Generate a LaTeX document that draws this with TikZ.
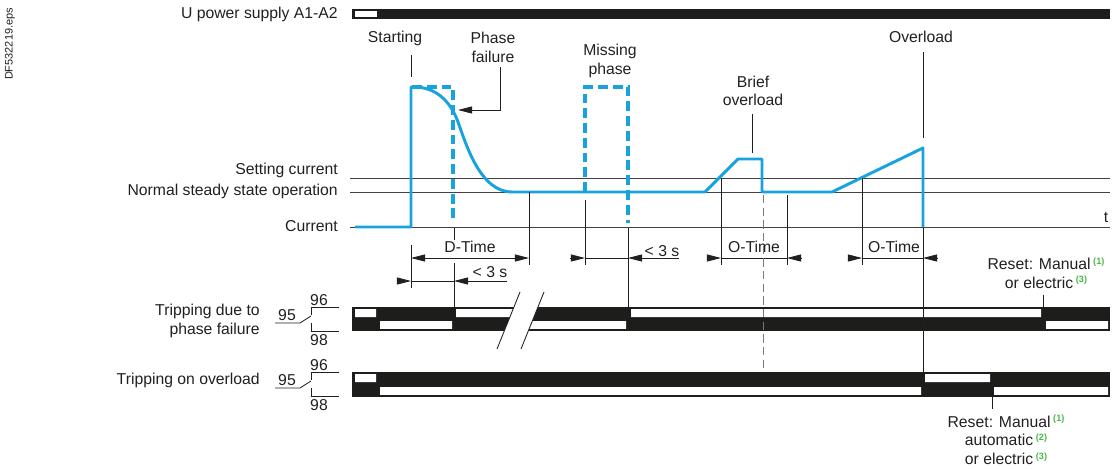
\documentclass[tikz,border=0pt]{standalone}
\usepackage{fontspec}
\setmainfont{Liberation Sans}
\usetikzlibrary{arrows.meta}
\definecolor{ink}{HTML}{231F20}
\definecolor{amp}{HTML}{18A3DD}
\definecolor{barblk}{HTML}{1D1D1B}
\definecolor{rstgreen}{HTML}{4CB848}
\newcommand{\refno}[1]{\,{\color{rstgreen}\fontsize{6.5}{7}\selectfont\bfseries\raisebox{0.6em}{(#1)}}}

\begin{document}
\begin{tikzpicture}[x=0.025cm,y=-0.025cm,
  every node/.style={font=\fontsize{11.2}{13.2}\selectfont,text=ink,inner sep=0pt},
  axisline/.style={draw=ink!85,line width=0.6pt},
  ext/.style={draw=ink,line width=0.6pt},
  amps/.style={draw=amp,line width=2.1pt},
  ampsdash/.style={draw=amp,line width=2.6pt,dash pattern=on 7pt off 3.5pt},
  arr/.style={ext,-{Triangle[length=10pt,width=5pt]}},
  hole/.style={fill=white}]
  \useasboundingbox (0,0) rectangle (1116,468);
  \node[rotate=90,font=\fontsize{7.8}{9}\selectfont] (fileref) at (10,44) {DF532219.eps};

  % supply
  \node[anchor=east] (supply) at (338,14) {U power supply A1-A2};
  \fill[barblk] (352,9) rectangle (1110,18.5);
  \fill[hole] (355,11) rectangle (377,16.5);

  % labels of the current chart
  \node (starting) at (395,38) {Starting};
  \node[align=center] (phfail) at (493,47.5) {Phase\\failure};
  \node[align=center] (missing) at (610,61) {Missing\\phase};
  \node[align=center] (brief) at (753,91) {Brief\\overload};
  \node (overload) at (921,37) {Overload};
  \node[anchor=east] (setting) at (338,170) {Setting current};
  \node[anchor=east] (normal) at (338,191) {Normal steady state operation};
  \node[anchor=east] (current) at (338,226) {Current};
  \node (tlabel) at (1106,217) {t};
  \draw[ext] (411,55) -- (411,77);
  \draw[ext] (752,114) -- (752,153);
  \draw[ext] (923,52) -- (923,138);
  \draw[arr] (500,67) |- (458,110);

  \draw[axisline] (350,178) -- (1110,178);
  \draw[axisline] (350,192) -- (1110,192);
  \draw[axisline] (350,227) -- (1110,227);

  % current
  \draw[ampsdash] (412,87) -- (453,87) -- (453,223);
  \draw[ampsdash] (585,192) -- (585,87) -- (628,87) -- (628,223);
  \draw[amps,line join=round] (355,227) -- (411,227) -- (411,87) -- (414,87)
    .. controls (435,87) and (450,100) .. (458,122)
    .. controls (466,144) and (480,192) .. (512,192) -- (705,192)
    -- (738,159) -- (762,159) -- (762,192) -- (832,192) -- (923,148) -- (923,227);

  % times
  \draw[ext] (411,245) -- (411,288);
  \draw[ext] (454,228) -- (454,240) (454,263) -- (454,307);
  \draw[ext] (529,192) -- (529,265);
  \draw[ext] (585,200) -- (585,265);
  \draw[ext] (628,228) -- (628,307);
  \draw[ext] (721,178) -- (721,265);
  \draw[ext] (787,195) -- (787,265);
  \draw[ext] (862,178) -- (862,265);

  \node (dtime) at (470,247) {D-Time};
  \draw[arr] (470,258) -- (411,258);
  \draw[arr] (470,258) -- (529,258);
  \node (lt1) at (490,272) {< 3 s};
  \draw[arr] (397,281) -- (411,281);
  \draw[ext] (411,281) -- (454,281);
  \draw[arr] (507,281) -- (454,281);
  \node (lt2) at (662,251) {< 3 s};
  \draw[arr] (570,258) -- (585,258);
  \draw[ext] (585,258) -- (628,258);
  \draw[arr] (679,258) -- (628,258);
  \node (otime1) at (754,247) {O-Time};
  \draw[arr] (707,258) -- (721,258);
  \draw[ext] (721,258) -- (787,258);
  \draw[arr] (801,258) -- (787,258);
  \node (otime2) at (894,247) {O-Time};
  \draw[arr] (848,258) -- (862,258);
  \draw[ext] (862,258) -- (923,258);
  \draw[arr] (937,258) -- (923,258);

  % relay outputs
  \node[align=right,anchor=east] (phtrip) at (260,321) {Tripping due to\\phase failure};
  \node[anchor=east] (oltrip) at (260,380) {Tripping on overload};
  \foreach \yt/\nm in {307/ph,372/ol}{
    \draw[ext] (275,\yt+16) -- (300,\yt+16) -- (311,\yt+9);
    \draw[ext] (339,\yt) -- (311,\yt) -- (311,\yt+8) (311,\yt+16) -- (311,\yt+24) -- (339,\yt+24);
    \node (\nm95) at (287,\yt+8) {95};
    \node (\nm96) at (319,\yt-7) {96};
    \node (\nm98) at (319,\yt+33) {98};
  }
  \fill[barblk] (352,307) rectangle (1110,331);
  \fill[hole] (355,309.2) rectangle (376,317) (456,309.2) rectangle (530,317)
    (631,309.2) rectangle (1041,317);
  \fill[hole] (380,321) rectangle (452,328.8) (512,321) rectangle (626,328.8)
    (1046,321) rectangle (1108,328.8);
  \fill[white] (497,349) -- (520,292) -- (544,292) -- (521,349) -- cycle;
  \draw[ext] (497,349) -- (520,292) (521,349) -- (544,292);

  \fill[barblk] (352,372) rectangle (1110,397);
  \fill[hole] (355,374.2) rectangle (376,382) (925,374.2) rectangle (990,382);
  \fill[hole] (380,387) rectangle (921,394.8) (994,387) rectangle (1108,394.8);

  \draw[ext] (923,228) -- (923,372);
  \draw[draw=ink!60,line width=0.6pt,dash pattern=on 6pt off 3pt] (763,195) -- (763,372);

  % resets
  \node[align=center] (rst1) at (1046,273) {Reset: Manual\refno{1}\\or electric\refno{3}};
  \draw[ext] (1043,295) -- (1043,307);
  \node[align=center] (rst2) at (1006,440) {Reset: Manual\refno{1}\\automatic\refno{2}\\or electric\refno{3}};
  \draw[ext] (992,397) -- (992,409);
\end{tikzpicture}
\end{document}
